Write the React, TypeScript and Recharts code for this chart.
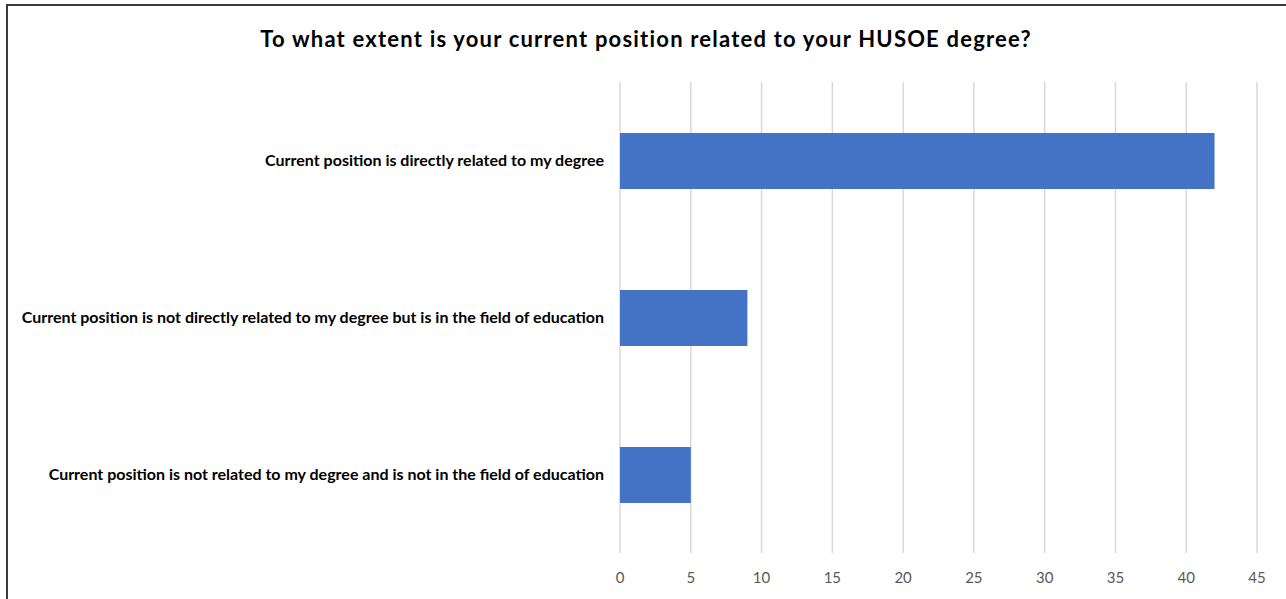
import React from 'react';
import { BarChart, Bar, XAxis, YAxis, CartesianGrid } from 'recharts';

const categories = [
  'Current position is directly related to my degree',
  'Current position is not directly related to my degree but is in the field of education',
  'Current position is not related to my degree and is not in the field of education',
];
const counts = [42, 9, 5];
const xTicks = [0, 5, 10, 15, 20, 25, 30, 35, 40, 45];
const title = 'To what extent is your current position related to your HUSOE degree?';

const data = categories.map((c, i) => ({ name: c, value: counts[i] }));

const FONT = 'Lato, "Open Sans", sans-serif';

export default function App() {
  return (
    <div style={{ position: 'absolute', left: 0, top: 0, width: 1286, height: 599, background: '#fff', overflow: 'hidden', fontFamily: FONT }}>
      <div
        style={{
          position: 'absolute',
          left: 6,
          top: 4,
          width: 1278,
          height: 620,
          borderTop: '2px solid #3a3a3a',
          borderLeft: '2px solid #3a3a3a',
          borderRight: '1px solid #d0d0d0',
        }}
      />
      <div
        style={{
          position: 'absolute',
          left: 0,
          width: 1292,
          top: 25,
          textAlign: 'center',
          fontSize: 22,
          letterSpacing: 1.2,
          fontWeight: 700,
          color: '#000',
          lineHeight: '28px',
        }}
      >
        {title}
      </div>
      <div style={{ position: 'absolute', left: 0, top: 0 }}>
        <BarChart
          width={1286}
          height={599}
          layout="vertical"
          data={data}
          margin={{ top: 82, right: 29, bottom: 0, left: 0 }}
        >
          <CartesianGrid horizontal={false} stroke="#d9d9d9" strokeWidth={1.5} />
          <XAxis
            type="number"
            domain={[0, 45]}
            ticks={xTicks}
            axisLine={false}
            tickLine={false}
            tickSize={0}
            tickMargin={19}
            height={46}
            interval={0}
            tick={{ fill: '#595959', fontSize: 15, fontFamily: FONT }}
          />
          <YAxis
            type="category"
            dataKey="name"
            width={620}
            axisLine={false}
            tickLine={false}
            tickSize={0}
            tickMargin={16}
            interval={0}
            tick={{ fill: '#000', fontSize: 16, fontWeight: 700, fontFamily: FONT }}
          />
          <Bar dataKey="value" fill="#4472C4" barSize={56} isAnimationActive={false} />
        </BarChart>
      </div>
    </div>
  );
}
